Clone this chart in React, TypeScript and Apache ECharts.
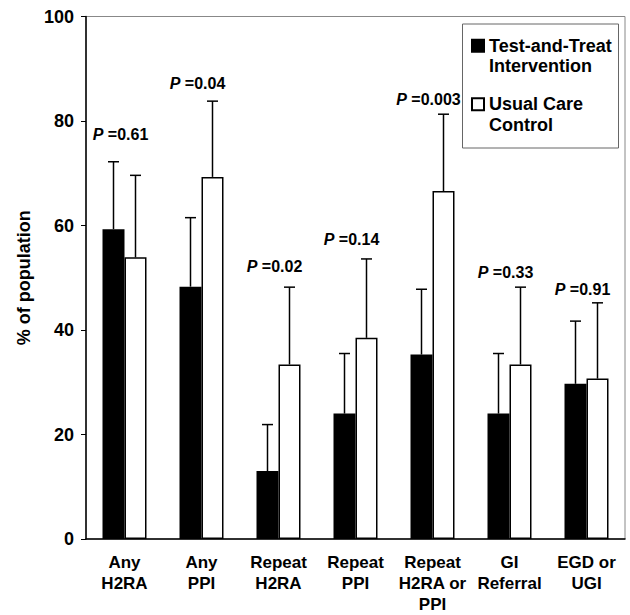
import React, { useEffect, useRef } from "react";
import * as echarts from "echarts";

const categories = [
  "Any\nH2RA",
  "Any\nPPI",
  "Repeat\nH2RA",
  "Repeat\nPPI",
  "Repeat\nH2RA or\nPPI",
  "GI\nReferral",
  "EGD or\nUGI",
];
const testTreat = [59.3, 48.3, 13.0, 24.0, 35.3, 24.0, 29.7];
const testTreatUpper = [72.2, 61.5, 21.9, 35.5, 47.8, 35.5, 41.7];
const usualCare = [53.9, 69.3, 33.4, 38.5, 66.6, 33.4, 30.7];
const usualCareUpper = [69.6, 83.8, 48.2, 53.6, 81.3, 48.2, 45.2];
const pValues = ["0.61", "0.04", "0.02", "0.14", "0.003", "0.33", "0.91"];
const pLabelY = [77.5, 87.1, 52.2, 57.4, 84.2, 51.1, 47.8];
const yTicks = [0, 20, 40, 60, 80, 100];

const FONT = "'Liberation Sans', Arial, Helvetica, sans-serif";
const BAR_W = 22;

function errorSeries(name: string, values: number[], upper: number[], offset: number) {
  return {
    type: "custom",
    name: name + " error",
    z: 5,
    silent: true,
    data: values.map((v, i) => [i, v, upper[i]]),
    renderItem: (params: any, api: any) => {
      const idx = api.value(0);
      const p0 = api.coord([idx, api.value(1)]);
      const p1 = api.coord([idx, api.value(2)]);
      const x = p0[0] + offset;
      const style = { stroke: "#000", lineWidth: 1.5 };
      return {
        type: "group",
        children: [
          { type: "line", shape: { x1: x, y1: p0[1], x2: x, y2: p1[1] }, style },
          { type: "line", shape: { x1: x - 5.5, y1: p1[1], x2: x + 5.5, y2: p1[1] }, style },
        ],
      };
    },
  };
}

export default function App() {
  const ref = useRef<HTMLDivElement>(null);
  useEffect(() => {
    if (!ref.current) return;
    const chart = echarts.init(ref.current, undefined, { renderer: "svg" });
    chart.setOption({
      animation: false,
      backgroundColor: "#fff",
      textStyle: { fontFamily: FONT },
      grid: {
        left: 86,
        right: 5,
        top: 16.5,
        bottom: 76,
        show: true,
        borderColor: "#888",
        borderWidth: 1,
        containLabel: false,
        outerBoundsMode: "none",
      },
      legend: {
        orient: "vertical",
        left: 471,
        top: 15,
        padding: 0,
        itemWidth: 12,
        itemHeight: 12,
        itemGap: -3,
        icon: "rect",
        data: ["Test-and-Treat\nIntervention", "Usual Care\nControl"],
        formatter: (name: string) => " \n" + name,
        textStyle: {
          fontFamily: FONT,
          fontSize: 18,
          fontWeight: "bold",
          color: "#000",
          lineHeight: 20.5,
        },
      },
      graphic: [
        {
          type: "rect",
          shape: { x: 462.5, y: 24, width: 156, height: 124 },
          style: { fill: "none", stroke: "#666", lineWidth: 1 },
          z: 10,
        },
      ],
      xAxis: {
        type: "category",
        data: categories,
        axisLine: { lineStyle: { color: "#000", width: 1.5 } },
        axisTick: { show: false },
        axisLabel: {
          color: "#000",
          fontFamily: FONT,
          fontSize: 17,
          fontWeight: "bold",
          lineHeight: 21,
          margin: 13,
          interval: 0,
        },
      },
      yAxis: {
        type: "value",
        min: 0,
        max: 100,
        interval: 20,
        name: "% of population",
        nameLocation: "middle",
        nameGap: 53,
        nameTextStyle: { color: "#000", fontFamily: FONT, fontSize: 18, fontWeight: "bold" },
        axisLine: { show: true, lineStyle: { color: "#000", width: 1.5 } },
        axisTick: { show: true, length: 5, lineStyle: { color: "#000" } },
        splitLine: { show: false },
        axisLabel: {
          color: "#000",
          fontFamily: FONT,
          fontSize: 18,
          fontWeight: "bold",
          margin: 12,
          formatter: (v: number) => (yTicks.includes(v) ? String(v) : ""),
        },
      },
      series: [
        {
          type: "bar",
          name: "Test-and-Treat\nIntervention",
          data: testTreat,
          barWidth: BAR_W,
          barGap: "0%",
          itemStyle: { color: "#000", borderColor: "#000", borderWidth: 1.5 },
        },
        {
          type: "bar",
          name: "Usual Care\nControl",
          data: usualCare,
          barWidth: BAR_W,
          barGap: "0%",
          itemStyle: { color: "#fff", borderColor: "#000", borderWidth: 1.5 },
        },
        errorSeries("Test-and-Treat", testTreat, testTreatUpper, -BAR_W / 2),
        errorSeries("Usual Care", usualCare, usualCareUpper, BAR_W / 2),
        {
          type: "scatter",
          name: "P",
          symbolSize: 0,
          silent: true,
          z: 6,
          itemStyle: { opacity: 1, color: "#000" },
          data: pLabelY.map((y, i) => [i, y]),
          label: {
            show: true,
            position: "inside",
            opacity: 1,
            color: "#000",
            offset: [-4, 0],
            formatter: (p: any) => "{i|P}{n| =" + pValues[p.dataIndex] + "}",
            rich: {
              i: { fontFamily: FONT, fontSize: 16, fontWeight: "bold", fontStyle: "italic", color: "#000" },
              n: { fontFamily: FONT, fontSize: 16, fontWeight: "bold", color: "#000" },
            },
          },
        },
      ],
    });
    return () => chart.dispose();
  }, []);
  return (
    <div
      ref={ref}
      style={{ position: "absolute", left: 0, top: 0, width: 630, height: 615, background: "#fff" }}
    />
  );
}
